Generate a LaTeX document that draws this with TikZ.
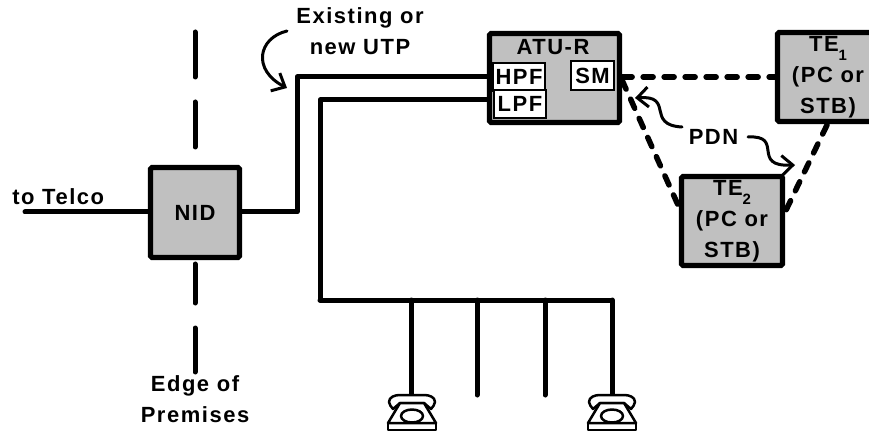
\documentclass[tikz,border=0pt]{standalone}
\usepackage{fontspec}
\setmainfont{Liberation Sans}[LetterSpace=7]
\usetikzlibrary{arrows.meta,positioning,calc}
\definecolor{boxgray}{HTML}{C0C0C0}
\newcommand{\subnum}[1]{\raisebox{-.8ex}{\fontsize{8.5}{8.5}\selectfont #1}}
\tikzset{
  >={Straight Barb[length=2.2mm,width=4mm,line width=.6mm]},
  lbl/.style={font=\bfseries\fontsize{12.5}{17.5}\selectfont,align=center,inner sep=0pt},
  unit/.style={draw=black,fill=boxgray,line width=1.05mm,rounded corners=.3mm,lbl,inner sep=0pt},
  filter/.style={draw=black,fill=white,line width=.3mm,lbl,inner sep=0pt},
  wire/.style={line width=1mm,line cap=round,line join=round},
  pdnlink/.style={line width=1.1mm,dash pattern=on 2mm off 2.2mm,line cap=round},
  edge/.style={line width=1mm,line cap=round},
  note/.style={->,line width=.6mm,line cap=round},
  phoneline/.style={line width=.5mm,line join=round},
}
\newcommand{\telephone}[1]{
  \begin{scope}[shift={(#1)}]
    \draw[phoneline,fill=white] (-12,5) -- (12,5) to[out=0,in=90] (23,12) to[out=-90,in=60] (19,19)
      -- (12,13) -- (-12,13) -- (-19,19) to[out=120,in=-90] (-23,12)
      to[out=90,in=180] cycle;
    \draw[phoneline,fill=white] (-12,13) -- (12,13) -- (24,33) -- (-24,33) -- cycle;
    \draw[phoneline] (-24,33) rectangle (24,40);
    \draw[phoneline] (0,26) ellipse (11 and 6.5);
  \end{scope}
}
\begin{document}
\begin{tikzpicture}[x=.2mm,y=-.2mm]
  \useasboundingbox (0,0) rectangle (869,431);
  % premises edge
  \draw[edge] (195,32)--(195,77);
  \draw[edge] (195,102)--(195,147);
  \draw[edge] (195,264)--(195,303);
  \draw[edge] (195,328)--(195,372);

  % lines to the boxes
  \coordinate (telco) at (25,212);
  \coordinate (hub) at (320,300);
  \node[unit,minimum width=17.8mm,minimum height=18mm] (nid) at (195,212.5) {NID};
  \node[unit,minimum width=26mm,minimum height=17.8mm] (atu) at (554.5,78) {};
  \node[lbl] (atulabel) at (553,47) {ATU-R};
  \node[filter,minimum width=10.4mm,minimum height=5.6mm] (hpf) at (519,77) {HPF};
  \node[filter,minimum width=10.4mm,minimum height=5.6mm] (lpf) at (520,104) {LPF};
  \node[filter,minimum width=8.6mm,minimum height=5.8mm] (sm) at (592.5,75.5) {SM};
  \node[unit,minimum width=20.2mm,minimum height=17.8mm] (te1) at (828,77)
    {TE\subnum{1}\\(PC or\\STB)};
  \node[unit,minimum width=20.2mm,minimum height=17.8mm] (te2) at (732,221)
    {TE\subnum{2}\\(PC or\\STB)};

  \draw[wire] (telco)--(nid.west |- telco);
  \draw[wire] (nid.east |- telco)--(297,212)--(297,77)--(atu.west |- 0,77);
  \draw[wire] (atu.west |- 0,100)--(320,100)--(hub);
  \draw[wire] (hub)--(612,300);
  \foreach \x in {411,477,545,612} \draw[wire] (\x,300)--(\x,395);

  \draw[pdnlink] (atu.east |- 0,77)--(te1.west |- 0,77);
  \draw[pdnlink] (622,80)--(te2.west |- 0,207);
  \draw[pdnlink] (827,125)--(te2.east |- 0,212);

  % labels and pointers
  \node[lbl] (utp) at (360,31) {Existing or\\new UTP};
  \node[lbl] (pdn) at (713.5,137) {PDN};
  \node[lbl,anchor=west] (telcolabel) at (12,197) {to Telco};
  \node[lbl] (edgelabel) at (195,399) {Edge of\\Premises};
  \draw[note] (287,31) .. controls (258,38) and (252,70) .. (287,88);
  \draw[note] (682,127) .. controls (645,125) and (675,95) .. (635,98);
  \draw[note] (748,137) .. controls (785,135) and (750,167) .. (795,165);

  \telephone{412,390}
  \telephone{612,390}
\end{tikzpicture}
\end{document}
